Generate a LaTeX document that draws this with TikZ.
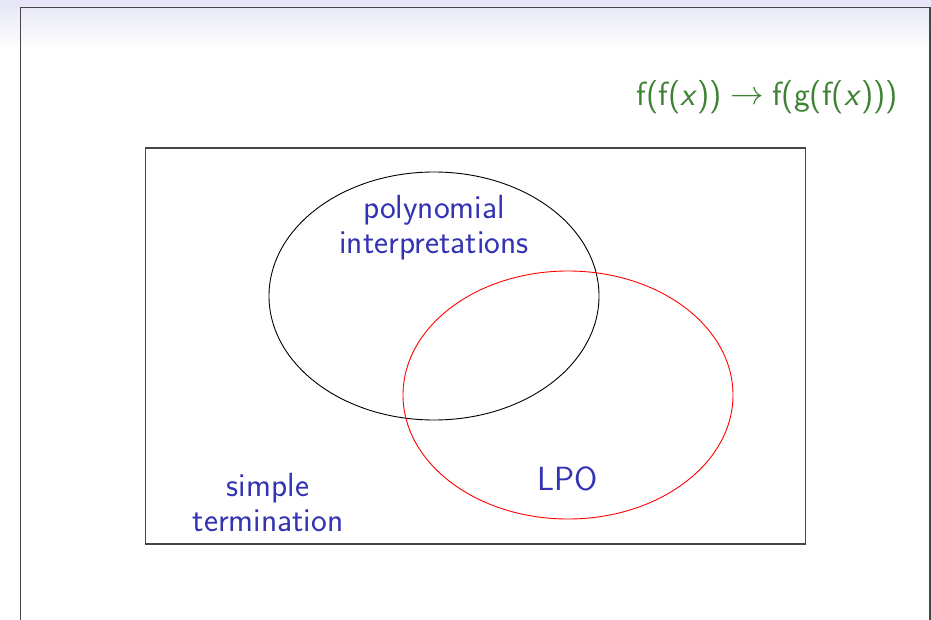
\documentclass[tikz,border=0pt]{standalone}
\begin{document}
\begin{tikzpicture}[x=1pt,y=-1pt,
  lbl/.style={text=structblue,font=\sffamily\fontsize{33.5}{35}\selectfont,align=center,inner sep=0pt},
  frm/.style={draw=framegray,line width=1.6pt}]
\definecolor{structblue}{RGB}{51,51,179}
\definecolor{termgreen}{RGB}{60,130,50}
\definecolor{framegray}{RGB}{70,70,70}
\definecolor{topband}{RGB}{230,230,246}
\useasboundingbox (0,0) rectangle (931,620);
\shade[top color=topband,bottom color=white] (0,0) rectangle (931,50);
\fill[topband] (0,0) rectangle (931,7);
\draw[frm] (20.5,640) -- (20.5,7.5) -- (930,7.5) -- (930,640);
% inner box
\draw[frm,line width=1.3pt] (145.5,148) rectangle (805.5,544);
\draw[black,line width=0.9pt] (434,296) ellipse [x radius=165, y radius=124];
\draw[red,line width=0.9pt] (568,395) ellipse [x radius=165, y radius=124];
\node[lbl] (pi) at (434,228) {polynomial\\interpretations};
\node[lbl] (lpo) at (568,479) {LPO};
\node[lbl] (st) at (268,503) {simple\\termination};
\node[text=termgreen,font=\sffamily\fontsize{33.5}{35}\selectfont,anchor=east,inner sep=0pt] (rule) at (898,97)
  {f(f(\textsl{x}))\hspace{0.25em}\raisebox{0.02em}{\scalebox{1.35}{$\rightarrow$}}\hspace{0.25em}f(g(f(\textsl{x})))};
\end{tikzpicture}
\end{document}
